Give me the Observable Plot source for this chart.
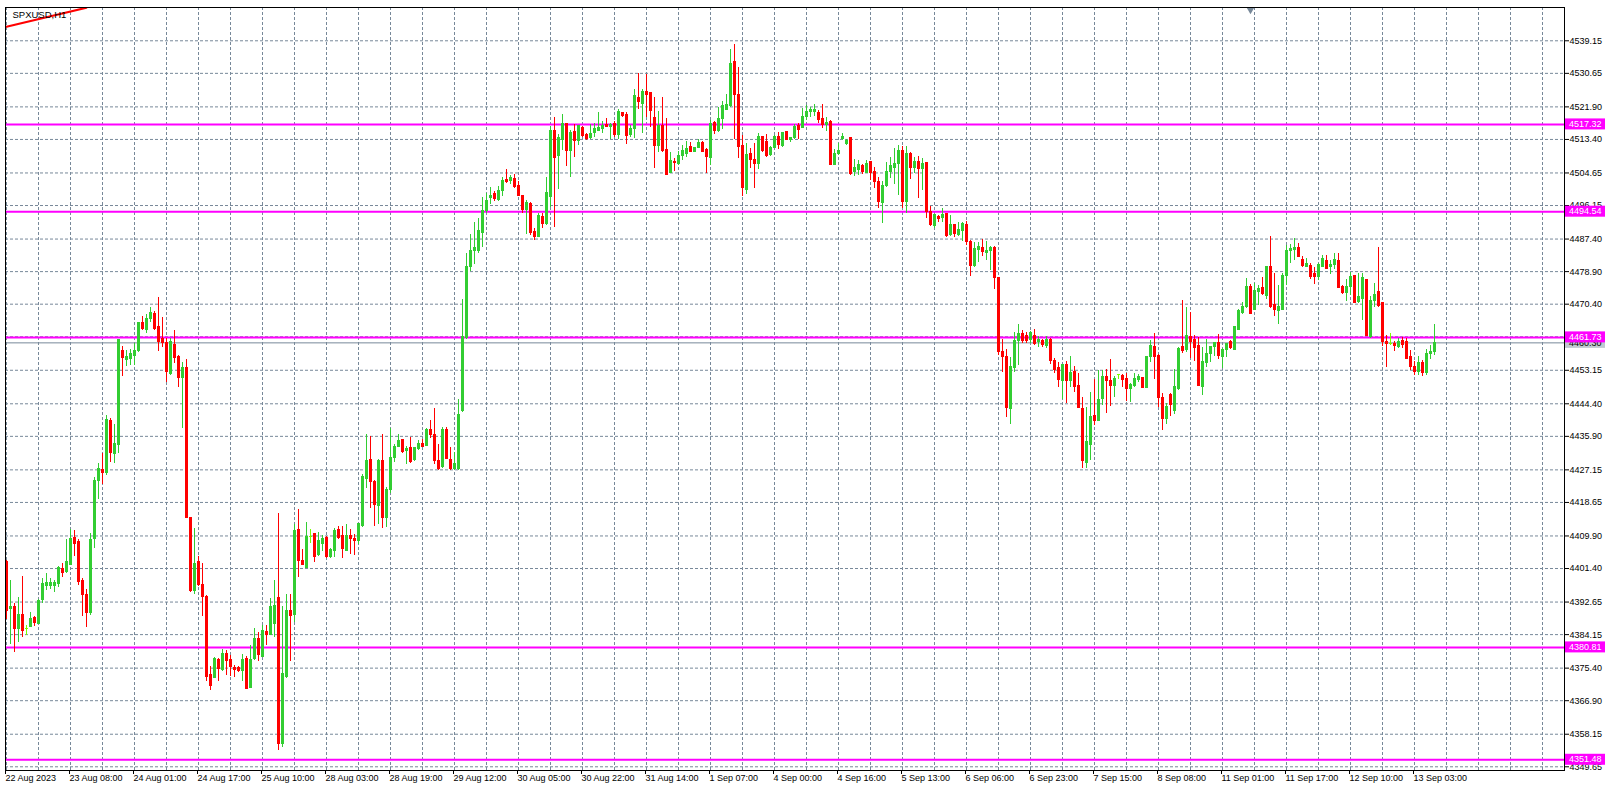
<!DOCTYPE html>
<html><head><meta charset="utf-8">
<script src="https://cdn.jsdelivr.net/npm/d3@7"></script>
<script src="https://cdn.jsdelivr.net/npm/@observablehq/plot@0.6"></script>
<style>
html,body{margin:0;padding:0;background:#fff;overflow:hidden}
#chart{position:absolute;left:0;top:0}
</style></head><body><div id="chart"></div>
<script>
const symbolLabel = "SPXUSD,H1";
const open = [4403.0,4390.77,4391.29,4385.63,4389.37,4385.6,4386.07,4388.5,4386.94,4393.2,4396.95,4396.95,4396.95,4397.38,4401.3,4400.43,4402.43,4409.3,4408.43,4398.26,4394.6,4389.72,4409.13,4424.19,4427.24,4426.3,4440.03,4431.32,4433.67,4458.3,4455.96,4456.0,4456.91,4458.13,4465.44,4463.7,4466.57,4467.88,4464.4,4461.2,4460.2,4452.21,4459.87,4456.74,4451.17,4453.8,4414.61,4395.47,4403.04,4397.21,4394.08,4373.71,4372.84,4377.54,4374.9,4379.1,4377.5,4375.5,4375.4,4374.75,4377.8,4370.2,4377.8,4383.02,4378.24,4384.77,4384.15,4386.94,4393.64,4355.5,4373.03,4390.25,4389.2,4411.5,4403.48,4401.56,4409.74,4410.3,4404.8,4407.8,4409.4,4404.5,4405.9,4411.5,4410.0,4406.1,4410.0,4409.13,4408.7,4412.6,4424.8,4429.76,4423.93,4417.83,4429.59,4414.53,4422.0,4430.18,4433.2,4434.97,4432.0,4432.88,4429.6,4432.6,4433.9,4433.5,4437.58,4436.36,4429.4,4427.8,4437.58,4429.75,4427.4,4427.4,4442.45,4461.6,4480.22,4484.2,4484.2,4488.9,4494.85,4498.15,4499.2,4497.63,4500.07,4502.94,4502.5,4503.1,4501.37,4498.76,4495.02,4496.42,4489.19,4488.06,4493.28,4491.36,4498.5,4515.73,4508.95,4513.3,4517.47,4510.34,4515.3,4513.12,4516.43,4514.69,4513.82,4515.04,4515.73,4516.0,4517.3,4516.6,4517.47,4514.69,4520.26,4519.91,4514.43,4516.17,4524.26,4522.7,4525.9,4525.56,4518.95,4511.64,4516.86,4510.77,4504.67,4507.64,4507.03,4509.2,4509.64,4511.55,4510.07,4511.12,4512.5,4510.77,4508.5,4517.73,4515.73,4518.78,4521.21,4522.08,4533.57,4525.04,4511.81,4500.33,4509.64,4508.16,4507.03,4514.0,4512.68,4509.38,4511.12,4513.99,4511.64,4515.47,4513.38,4513.73,4516.86,4516.34,4519.21,4520.69,4520.69,4520.35,4518.78,4517.21,4518.08,4506.6,4509.64,4513.56,4512.25,4513.73,4505.03,4505.55,4506.42,4504.68,4507.46,4505.03,4502.42,4496.85,4501.2,4505.03,4506.03,4507.03,4510.5,4497.0,4509.5,4506.0,4507.5,4505.8,4507.2,4494.42,4490.76,4493.11,4492.85,4493.98,4488.33,4490.94,4488.33,4489.63,4491.11,4486.76,4480.49,4484.67,4485.02,4483.8,4484.41,4485.02,4477.19,4458.04,4456.56,4443.07,4453.69,4460.91,4462.65,4462.21,4460.92,4462.22,4460.5,4460.74,4459.61,4461.09,4455.69,4453.78,4450.3,4454.65,4450.3,4452.65,4449.17,4443.07,4429.0,4433.76,4441.33,4439.85,4445.68,4451.34,4450.47,4449.17,4452.04,4451.78,4450.91,4448.3,4449.17,4450.65,4451.17,4448.56,4456.74,4459.35,4457.0,4446.0,4440.5,4446.8,4442.5,4448.3,4459.17,4458.56,4461.78,4461.17,4459.43,4448.73,4455.08,4457.43,4459.17,4460.3,4456.56,4458.56,4460.65,4458.56,4463.78,4468.14,4469.62,4474.84,4469.01,4473.54,4474.58,4472.66,4480.06,4470.23,4468.75,4469.01,4477.88,4484.41,4484.67,4485.1,4481.97,4480.23,4480.49,4478.32,4477.45,4480.23,4481.8,4480.06,4480.75,4481.8,4475.01,4473.27,4475.01,4477.88,4470.92,4471.79,4476.75,4461.95,4471.36,4473.53,4470.66,4460.47,4460.04,4460.04,4459.34,4460.91,4460.47,4456.73,4453.95,4452.6,4455.0,4452.4,4457.5,4458.0];
const high = [4403.5,4398.27,4392.33,4393.9,4399.3,4386.5,4389.98,4388.85,4393.2,4398.69,4399.99,4398.69,4398.2,4401.9,4402.78,4408.87,4411.48,4411.3,4409.1,4398.7,4395.8,4410.44,4425.23,4428.71,4431.32,4441.3,4440.5,4438.98,4461.1,4459.35,4458.3,4458.5,4460.05,4465.7,4467.18,4467.7,4469.44,4468.6,4472.23,4467.0,4461.35,4461.35,4463.53,4457.0,4455.3,4455.95,4414.8,4411.74,4404.5,4402.6,4394.35,4375.8,4378.24,4377.8,4380.15,4380.0,4378.7,4376.1,4375.8,4378.9,4378.4,4381.3,4385.63,4384.8,4386.51,4386.5,4393.64,4398.26,4415.84,4391.47,4394.6,4394.6,4412.88,4416.71,4406.3,4413.5,4411.5,4410.3,4410.9,4410.0,4409.74,4406.5,4411.74,4412.35,4412.35,4412.9,4411.5,4410.3,4413.2,4425.9,4436.38,4435.85,4424.4,4429.76,4436.38,4422.6,4437.84,4433.75,4436.4,4435.0,4433.2,4435.5,4433.05,4434.8,4435.2,4437.84,4440.02,4443.06,4433.9,4438.1,4438.1,4432.9,4431.75,4445.41,4471.52,4483.7,4488.58,4491.8,4492.67,4498.33,4499.37,4500.76,4499.9,4501.1,4503.37,4505.46,4504.0,4504.2,4502.5,4498.8,4497.46,4497.02,4490.06,4493.97,4493.97,4503.55,4516.78,4519.04,4514.69,4519.91,4517.65,4515.73,4517.3,4516.8,4516.8,4514.9,4517.3,4517.47,4520.52,4518.17,4518.78,4517.47,4518.17,4521.13,4520.52,4520.52,4517.04,4526.35,4530.53,4526.35,4530.26,4525.6,4524.43,4520.69,4524.43,4518.95,4509.9,4508.5,4510.24,4511.81,4512.85,4512.5,4511.4,4513.38,4512.85,4511.12,4518.34,4518.08,4521.82,4523.3,4525.04,4536.87,4538.1,4532.26,4514.42,4512.24,4510.94,4512.24,4514.86,4514.25,4514.6,4511.64,4514.43,4515.3,4515.3,4515.47,4513.99,4517.21,4517.47,4521.39,4522.26,4521.82,4522.43,4520.95,4522.43,4519.21,4518.34,4510.77,4512.25,4514.86,4513.38,4513.73,4508.16,4507.9,4506.77,4507.9,4507.64,4506.16,4503.55,4502.42,4507.46,4508.77,4510.94,4511.82,4511.5,4511.6,4510.0,4508.8,4509.0,4508.5,4507.5,4495.98,4493.72,4493.55,4495.29,4493.98,4493.55,4490.94,4491.63,4491.81,4491.98,4487.02,4486.59,4486.59,4487.28,4486.76,4485.54,4485.54,4477.45,4461.17,4458.56,4456.56,4462.91,4465.0,4463.52,4462.91,4463.35,4463.7,4461.96,4461.09,4461.96,4461.35,4456.13,4455.26,4454.65,4455.52,4456.74,4454.13,4452.21,4445.95,4443.33,4447.42,4450.65,4453.08,4453.08,4453.26,4455.87,4451.52,4452.1,4452.04,4452.21,4449.6,4452.21,4452.04,4451.17,4456.74,4460.92,4462.83,4457.3,4447.0,4444.5,4447.0,4453.34,4459.17,4471.36,4469.62,4468.14,4462.22,4461.78,4459.17,4461.17,4459.43,4460.48,4462.39,4458.91,4460.04,4460.91,4464.39,4469.01,4470.75,4477.19,4475.45,4475.71,4475.28,4477.45,4480.32,4488.16,4478.32,4475.28,4478.32,4485.71,4485.97,4487.45,4486.32,4482.84,4482.23,4480.93,4480.06,4480.93,4483.1,4483.1,4481.8,4483.54,4483.54,4475.27,4476.75,4478.75,4477.88,4478.49,4478.49,4476.75,4472.4,4475.88,4485.28,4470.66,4462.22,4462.66,4460.74,4461.34,4461.6,4461.34,4458.3,4455.5,4456.8,4455.8,4458.5,4459.5,4465.1];
const low = [4388.0,4381.5,4379.5,4382.0,4383.47,4383.9,4386.0,4386.24,4386.7,4392.16,4395.64,4395.8,4395.2,4396.5,4398.95,4400.0,4402.2,4404.52,4396.95,4388.85,4386.07,4389.1,4406.52,4419.31,4423.32,4425.7,4429.15,4428.7,4431.3,4451.52,4454.13,4454.4,4454.4,4457.8,4463.5,4462.7,4465.7,4463.5,4458.13,4459.2,4450.04,4451.8,4455.0,4448.73,4437.85,4414.35,4395.2,4394.6,4396.7,4388.85,4371.97,4369.5,4372.6,4371.97,4374.6,4373.45,4373.2,4373.0,4374.3,4371.97,4369.7,4369.97,4377.5,4377.2,4378.1,4381.28,4383.9,4383.46,4354.0,4354.8,4372.6,4377.19,4387.4,4399.13,4402.1,4401.3,4408.0,4403.0,4404.6,4405.9,4403.9,4403.9,4404.35,4408.87,4403.9,4405.9,4405.05,4404.8,4407.7,4412.0,4422.19,4416.97,4412.35,4412.9,4411.74,4412.2,4421.0,4429.1,4432.9,4431.3,4428.5,4428.9,4429.4,4432.2,4432.9,4433.2,4435.23,4428.5,4426.96,4427.6,4429.8,4427.1,4427.0,4427.1,4442.2,4461.08,4479.0,4480.75,4483.5,4485.1,4493.97,4496.4,4497.3,4497.28,4498.5,4502.0,4501.6,4500.5,4498.5,4493.98,4488.58,4488.32,4487.01,4487.88,4490.06,4490.93,4495.54,4490.5,4500.24,4510.51,4506.34,4503.37,4508.6,4511.8,4514.0,4513.12,4513.3,4514.0,4515.56,4515.04,4516.6,4513.47,4513.82,4513.3,4519.2,4512.08,4513.82,4513.56,4521.13,4515.04,4519.21,4516.6,4505.72,4509.9,4510.07,4503.98,4504.67,4505.0,4506.6,4507.9,4508.77,4509.9,4509.9,4510.94,4510.07,4504.42,4506.6,4514.6,4515.12,4516.0,4520.95,4521.82,4513.38,4508.5,4498.58,4498.93,4505.89,4500.67,4505.54,4510.07,4508.77,4509.0,4510.94,4510.77,4511.38,4513.3,4512.68,4513.38,4513.38,4516.17,4518.34,4519.21,4519.47,4517.47,4516.17,4515.47,4506.77,4506.6,4509.21,4513.12,4511.82,4503.98,4503.81,4503.98,4504.16,4504.42,4502.68,4500.68,4495.45,4491.36,4500.94,4503.11,4501.55,4498.76,4495.3,4494.0,4503.0,4504.5,4498.0,4500.0,4492.85,4490.76,4490.24,4491.63,4491.81,4487.89,4488.15,4487.89,4488.15,4486.76,4485.72,4477.71,4480.06,4481.36,4482.93,4481.8,4479.19,4474.23,4456.99,4452.64,4440.89,4438.89,4452.64,4454.38,4460.04,4460.04,4460.05,4459.61,4459.0,4459.18,4458.74,4454.65,4452.39,4448.73,4445.42,4444.55,4448.73,4447.42,4443.07,4427.5,4427.5,4429.6,4438.72,4439.85,4443.94,4441.77,4443.68,4445.95,4450.65,4448.73,4445.08,4444.81,4448.73,4450.04,4448.3,4448.56,4455.26,4450.65,4443.5,4437.5,4439.0,4441.0,4441.5,4447.86,4457.43,4457.87,4456.3,4455.43,4449.0,4446.55,4453.95,4455.26,4456.82,4455.95,4453.69,4456.56,4458.56,4458.56,4463.78,4467.62,4469.36,4467.62,4468.75,4470.06,4472.66,4471.62,4469.36,4467.27,4464.99,4468.75,4475.27,4481.1,4481.8,4482.67,4479.88,4479.88,4476.75,4475.53,4476.58,4479.88,4479.36,4478.14,4479.36,4474.4,4472.92,4471.18,4472.66,4470.66,4470.66,4466.13,4462.22,4461.34,4469.44,4469.44,4459.34,4453.95,4459.6,4458.12,4458.73,4458.73,4455.86,4453.08,4451.7,4451.9,4451.5,4451.8,4456.0,4457.0];
const close = [4390.25,4391.47,4385.63,4389.37,4385.2,4385.6,4388.24,4387.11,4393.03,4397.38,4397.56,4397.56,4397.7,4401.47,4400.17,4403.04,4409.13,4407.83,4397.82,4394.6,4389.72,4408.87,4424.19,4427.41,4426.3,4440.29,4431.5,4433.94,4460.92,4456.3,4456.6,4457.43,4458.3,4465.44,4463.96,4466.66,4468.05,4463.96,4460.48,4460.2,4452.65,4460.65,4456.3,4451.08,4453.7,4414.61,4395.64,4402.6,4397.21,4394.08,4373.01,4370.84,4377.8,4375.2,4379.1,4377.2,4375.8,4375.0,4374.6,4377.4,4369.97,4377.6,4383.02,4378.7,4385.2,4384.15,4391.29,4391.64,4355.5,4373.89,4390.42,4389.1,4411.31,4403.48,4402.2,4409.74,4409.74,4404.5,4408.7,4409.1,4404.35,4406.26,4411.3,4409.4,4406.5,4410.0,4409.13,4408.5,4413.05,4425.41,4429.59,4423.93,4418.1,4429.41,4414.53,4422.02,4430.18,4433.2,4434.8,4431.75,4432.6,4429.15,4432.88,4433.9,4433.2,4437.58,4436.36,4429.4,4427.4,4437.58,4430.0,4427.4,4428.7,4441.58,4461.95,4480.22,4484.4,4485.0,4489.45,4494.85,4497.28,4498.76,4497.9,4500.07,4502.68,4502.24,4503.37,4501.1,4498.76,4495.02,4496.76,4488.93,4487.88,4493.54,4491.36,4499.46,4515.56,4508.6,4513.82,4517.47,4510.51,4515.04,4513.12,4516.78,4514.17,4513.56,4514.86,4516.17,4516.35,4516.8,4516.6,4517.3,4514.69,4520.52,4519.39,4514.17,4516.17,4524.61,4523.13,4525.74,4525.04,4520.95,4511.64,4516.86,4510.5,4504.15,4507.9,4507.29,4509.2,4510.5,4510.94,4510.24,4511.12,4512.5,4510.24,4508.77,4517.47,4515.73,4518.78,4522.08,4522.26,4533.13,4525.04,4511.38,4500.67,4509.38,4508.16,4507.03,4514.0,4510.5,4509.2,4511.12,4513.99,4511.82,4515.12,4513.3,4513.73,4516.6,4515.99,4519.21,4520.69,4521.0,4521.0,4518.6,4517.21,4517.73,4506.77,4509.64,4510.51,4513.99,4513.12,4504.42,4505.9,4506.6,4505.03,4507.03,4504.68,4502.42,4497.02,4501.2,4505.03,4506.42,4507.03,4510.51,4497.0,4509.5,4506.0,4507.5,4505.8,4506.9,4494.42,4491.11,4493.55,4492.68,4493.72,4488.15,4490.94,4488.76,4489.89,4491.37,4486.76,4480.49,4484.85,4485.28,4484.15,4484.41,4485.02,4477.19,4458.04,4456.56,4443.24,4453.95,4460.91,4462.65,4460.91,4460.91,4462.83,4460.05,4460.92,4459.87,4460.92,4455.69,4453.26,4450.65,4454.65,4450.3,4452.39,4448.73,4443.33,4429.5,4434.37,4441.07,4440.03,4445.42,4451.52,4450.47,4449.17,4450.91,4452.04,4450.65,4448.3,4449.43,4450.91,4451.52,4448.56,4456.74,4459.61,4456.56,4446.0,4440.5,4443.5,4444.0,4448.73,4458.74,4458.3,4462.22,4460.65,4458.91,4449.0,4455.43,4457.43,4459.17,4460.3,4456.82,4458.56,4460.04,4458.91,4464.39,4468.75,4469.62,4474.84,4467.88,4473.97,4474.41,4473.1,4480.06,4469.62,4469.01,4469.62,4477.88,4484.41,4484.84,4485.1,4482.84,4480.49,4480.93,4477.62,4477.45,4480.75,4482.23,4479.62,4480.75,4481.97,4474.66,4473.27,4475.01,4477.62,4470.66,4472.23,4477.27,4462.22,4471.36,4472.92,4470.05,4460.47,4460.04,4460.04,4459.6,4460.47,4459.86,4456.12,4453.95,4452.6,4455.0,4452.4,4457.5,4458.0,4460.3];
const timeLabels = ["22 Aug 2023","23 Aug 08:00","24 Aug 01:00","24 Aug 17:00","25 Aug 10:00","28 Aug 03:00","28 Aug 19:00","29 Aug 12:00","30 Aug 05:00","30 Aug 22:00","31 Aug 14:00","1 Sep 07:00","4 Sep 00:00","4 Sep 16:00","5 Sep 13:00","6 Sep 06:00","6 Sep 23:00","7 Sep 15:00","8 Sep 08:00","11 Sep 01:00","11 Sep 17:00","12 Sep 10:00","13 Sep 03:00"];
const timeLabelBars = [0,16,32,48,64,80,96,112,128,144,160,176,192,208,224,240,256,272,288,304,320,336,352];
const gridBars = d3.range(0, 390, 8);
const priceTicks = [4539.15,4530.65,4521.90,4513.40,4504.65,4496.15,4487.40,4478.90,4470.40,4461.90,4453.15,4444.40,4435.90,4427.15,4418.65,4409.90,4401.40,4392.65,4384.15,4375.40,4366.90,4358.15,4349.65];
const levels = [4517.32,4494.54,4461.73,4380.81,4351.48];
const bidPrice = 4460.30;
const trendBars = [0, 20];
const trendPrices = [4542.8, 4547.8];
const shiftBar = 311;

const bars = open.map((o, i) => ({i, o, h: high[i], l: low[i], c: close[i]}));
const col = d => d.c > d.o ? "#32cd32" : d.c < d.o ? "#ff0000" : "#7cfc00";
const labelOf = new Map(timeLabelBars.map((b, k) => [b, timeLabels[k]]));
const gridColor = "#778899";
const font = "'Liberation Sans', Arial, sans-serif";

const chart = Plot.plot({
  width: 1606, height: 788,
  marginTop: 7, marginRight: 42, marginBottom: 18, marginLeft: 5,
  x: {domain: [-0.25, 389.5]},
  y: {domain: [4348.68, 4547.84]},
  style: {background: "#fff", fontFamily: font, fontSize: "9px", color: "#000"},
  marks: [
    Plot.ruleX(gridBars, {x: d => d, stroke: gridColor, strokeDasharray: "3,2"}),
    Plot.ruleY(priceTicks, {y: d => d, stroke: gridColor, strokeDasharray: "3,2"}),
    Plot.ruleY(levels, {y: d => d, stroke: "#ff00ff", strokeWidth: 2}),
    Plot.ruleY([bidPrice], {y: d => d, stroke: gridColor}),
    Plot.ruleX(bars, {x: "i", y1: "l", y2: "h", stroke: col, shapeRendering: "crispEdges"}),
    Plot.rect(bars, {x1: d => d.i - 0.375, x2: d => d.i + 0.375, y1: d => Math.min(d.o, d.c), y2: d => Math.max(d.o, d.c), fill: col, insetTop: -0.5, insetBottom: -0.5, shapeRendering: "crispEdges"}),
    Plot.line(trendBars.map((b, k) => [b, trendPrices[k]]), {x: d => d[0], y: d => d[1], stroke: "#ff0000", strokeWidth: 2, clip: true}),
    Plot.text([symbolLabel], {frameAnchor: "top-left", dx: 7, dy: 4, text: d => d, fontSize: 9.5, fill: "#000"}),
    Plot.dot([shiftBar], {x: d => d, frameAnchor: "top", symbol: "triangle", r: 3, rotate: 180, fill: gridColor, stroke: "none", dy: 2}),
    Plot.axisY(priceTicks, {anchor: "right", label: null, tickSize: 4, tickPadding: 1, tickFormat: d => d.toFixed(2), fontSize: 9}),
    Plot.axisX(timeLabelBars, {anchor: "bottom", label: null, tickSize: 4, tickPadding: 0, tickFormat: d => labelOf.get(d), textAnchor: "start", dx: -1, fontSize: 9}),
    Plot.frame({stroke: "#000"})
  ]
});
document.getElementById("chart").appendChild(chart);

const sy = chart.scale("y");
const svg = d3.select(chart);
const tags = [{v: bidPrice, fill: "#c0c8d0", text: "#000"}].concat(levels.map(v => ({v, fill: "#ff00ff", text: "#fff"})));
const g = svg.append("g").attr("text-anchor", "start").attr("font-family", font).attr("font-size", 9);
for (const t of tags) {
  const y = sy.apply(t.v);
  g.append("rect").attr("x", 1565).attr("y", y - 5.5).attr("width", 40).attr("height", 11).attr("fill", t.fill);
  g.append("text").attr("x", 1569).attr("y", y + 3.2).attr("text-anchor", "start").attr("fill", t.text).text(t.v.toFixed(2));
}
</script>
</body></html>
